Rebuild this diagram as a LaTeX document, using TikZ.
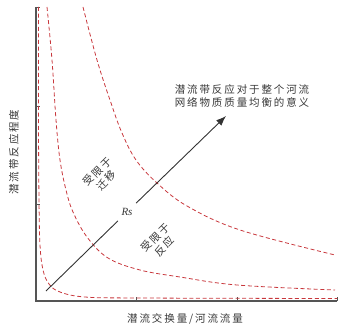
\documentclass[tikz,border=0pt]{standalone}
\usepackage{fontspec}
\setmainfont{Liberation Serif}
\newfontfamily\cjk[LetterSpace=18]{Noto Sans CJK SC}
\usetikzlibrary{arrows.meta}
\definecolor{curvered}{RGB}{200,55,60}
\definecolor{axisgray}{RGB}{85,85,85}
\definecolor{txtgray}{RGB}{55,55,55}
\tikzset{
  axisline/.style={draw=axisgray, line width=1.3pt},
  tickline/.style={draw=axisgray, line width=0.8pt},
  boundary/.style={draw=curvered, line width=0.8pt, dash pattern=on 4pt off 2.6pt},
  cjklabel/.style={text=txtgray, font=\cjk\fontsize{10.5}{12.5}\selectfont, align=center, inner sep=0pt},
  arrowline/.style={draw=black!80, line width=0.9pt},
}
\begin{document}
\begin{tikzpicture}[x=1pt,y=-1pt]
\useasboundingbox (0,0) rectangle (355,328);
% axes
\coordinate (o) at (36,301);
\coordinate (ytop) at (36,7);
\coordinate (xend) at (337,301);
\draw[axisline] (ytop) -- (o) -- (xend);
\foreach \yy in {7,106,204} \draw[tickline] (36,\yy) -- (40,\yy);
\foreach \xx in {136,237,337} \draw[tickline] (\xx,301) -- (\xx,297);
% boundary curves
\draw[boundary] plot[smooth, tension=0.6] coordinates {(38.5,7) (38.5,120) (39,200) (40,245) (43,270) (49,284) (60,292) (85,297) (140,298) (337,298.5)};
\draw[boundary] plot[smooth, tension=0.6] coordinates {(47,7) (52,60) (56,120) (60,160) (66,190) (73,212) (87,237) (108,258) (140,270) (180,277) (237,285) (335,290)};
\draw[boundary] plot[smooth, tension=0.6] coordinates {(83,7) (97,60) (111,103) (122,133) (136,160) (157,183) (187,206) (240,230) (335,255)};
% arrow
\coordinate (a0) at (46,291);
\node[inner sep=5pt, font=\itshape\fontsize{11}{12}\selectfont, text=txtgray] (rs) at (127,212) {Rs};
\coordinate (a1) at (226,116);
\draw[arrowline] (a0) -- (rs);
\draw[arrowline, -{Latex[length=10pt,width=7.5pt]}] (rs) -- (a1);
% labels
\node[cjklabel] (top) at (242,96) {潜流带反应对于整个河流\\网络物质质量均衡的意义};
\node[cjklabel, rotate=45] (lab1) at (102,176) {受限于\\迁移};
\node[cjklabel, rotate=45] (lab2) at (160,242) {受限于\\反应};
\node[cjklabel, rotate=90] (ylab) at (14,152) {潜流带反应程度};
\node[cjklabel] (xlab) at (185,319) {潜流交换量/河流流量};
\end{tikzpicture}
\end{document}
